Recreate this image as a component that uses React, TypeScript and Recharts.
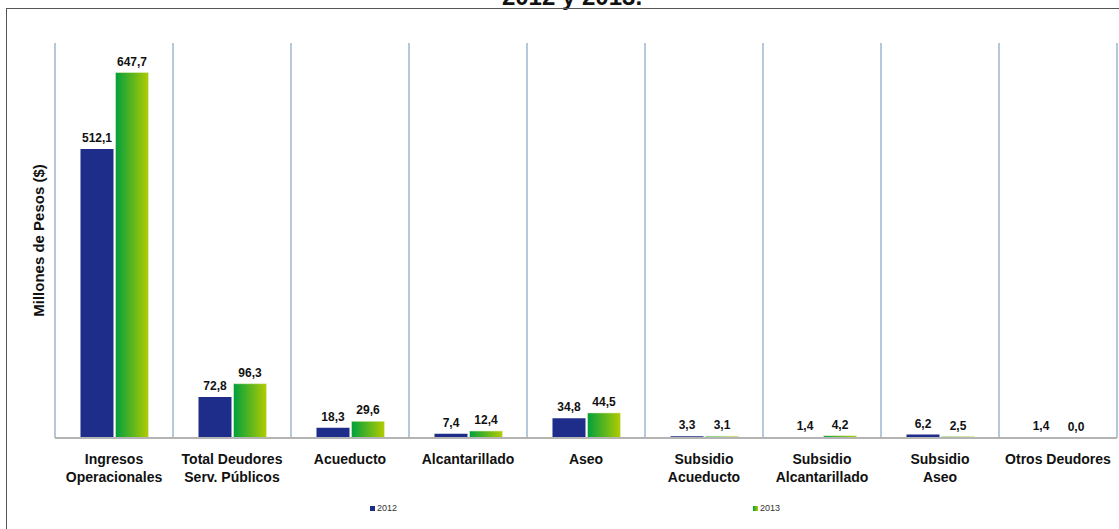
import { BarChart, Bar, XAxis, YAxis, CartesianGrid, LabelList } from 'recharts';

const categories = [
  'Ingresos\nOperacionales',
  'Total Deudores\nServ. Públicos',
  'Acueducto',
  'Alcantarillado',
  'Aseo',
  'Subsidio\nAcueducto',
  'Subsidio\nAlcantarillado',
  'Subsidio\nAseo',
  'Otros Deudores',
];
const values2012 = [512.1, 72.8, 18.3, 7.4, 34.8, 3.3, 1.4, 6.2, 1.4];
const values2013 = [647.7, 96.3, 29.6, 12.4, 44.5, 3.1, 4.2, 2.5, 0.0];
const seriesNames = ['2012', '2013'];
const title = '2012 y 2013.';
const yLabel = 'Millones de Pesos ($)';

const FONT = '"Liberation Sans", Arial, sans-serif';
const NAVY = '#1f2d8a';

const data = categories.map((name, i) => ({
  name,
  y2012: values2012[i],
  y2013: values2013[i],
}));

const fmt = (v: number) => v.toFixed(1).replace('.', ',');

function CategoryTick({ x, y, payload }: any) {
  const lines = String(payload.value).split('\n');
  return (
    <text
      x={x}
      y={y}
      textAnchor="middle"
      fontFamily={FONT}
      fontSize={14}
      fontWeight="bold"
      fill="#111"
    >
      {lines.map((line, i) => (
        <tspan key={i} x={x} dy={18}>
          {line}
        </tspan>
      ))}
    </text>
  );
}

function YTitle({ viewBox }: any) {
  const cx = viewBox.x + viewBox.width - 17;
  const cy = viewBox.y + viewBox.height / 2;
  return (
    <text
      x={cx}
      y={cy}
      transform={`rotate(-90 ${cx} ${cy})`}
      textAnchor="middle"
      dominantBaseline="central"
      fontFamily={FONT}
      fontSize={15}
      fontWeight="bold"
      fill="#111"
    >
      {yLabel}
    </text>
  );
}

const labelStyle = { fontFamily: FONT, fontSize: 12, fontWeight: 'bold', fill: '#111' };

export default function App() {
  return (
    <div
      style={{
        position: 'absolute',
        left: 0,
        top: 0,
        width: 1119,
        height: 529,
        overflow: 'hidden',
        background: '#fff',
        fontFamily: FONT,
      }}
    >
      <div
        style={{
          position: 'absolute',
          left: 0,
          width: 1119,
          top: -17,
          textAlign: 'center',
          paddingLeft: 25,
          boxSizing: 'border-box',
          fontSize: 24,
          fontWeight: 'bold',
          color: '#111',
          lineHeight: '28px',
        }}
      >
        {title}
      </div>
      <div
        style={{
          position: 'absolute',
          left: 6,
          top: 8,
          width: 1200,
          height: 600,
          borderLeft: '1.5px solid #555',
          borderTop: '1.5px solid #555',
        }}
      />
      <div style={{ position: 'absolute', left: 0, top: 0 }}>
        <BarChart
          width={1119}
          height={529}
          data={data}
          margin={{ top: 43, right: 2, left: 0, bottom: 31 }}
          barCategoryGap="21.6%"
          barGap={2}
        >
          <defs>
            <linearGradient id="g2013" x1="0" y1="0" x2="1" y2="0">
              <stop offset="0%" stopColor="#00a03e" />
              <stop offset="100%" stopColor="#b2cb00" />
            </linearGradient>
          </defs>
          <CartesianGrid
            horizontal={false}
            stroke="#86a3c4"
            strokeWidth={1.2}
            verticalCoordinatesGenerator={({ offset }: any) =>
              Array.from(
                { length: categories.length + 1 },
                (_, i) => offset.left + (i * offset.width) / categories.length
              )
            }
          />
          <XAxis
            dataKey="name"
            height={60}
            interval={0}
            tickLine={false}
            axisLine={{ stroke: '#b4b4b4', strokeWidth: 2 }}
            tick={<CategoryTick />}
          />
          <YAxis
            domain={[0, 700]}
            width={55}
            tick={false}
            tickLine={false}
            axisLine={false}
            label={<YTitle />}
          />
          <Bar dataKey="y2012" name={seriesNames[0]} fill={NAVY} isAnimationActive={false}>
            <LabelList dataKey="y2012" position="top" offset={7} formatter={fmt} style={labelStyle} />
          </Bar>
          <Bar
            dataKey="y2013"
            name={seriesNames[1]}
            fill="url(#g2013)"
            stroke="#e4f0c8"
            strokeWidth={0.6}
            minPointSize={(v: number) => (v === 0 ? 0.3 : 0)}
            isAnimationActive={false}
          >
            <LabelList dataKey="y2013" position="top" offset={7} formatter={fmt} style={labelStyle} />
          </Bar>
        </BarChart>
      </div>
      <div
        style={{
          position: 'absolute',
          top: 503,
          left: 370,
          display: 'flex',
          fontSize: 9,
          color: '#333',
        }}
      >
        {seriesNames.map((s, i) => (
          <div key={s} style={{ width: 383, display: 'flex', alignItems: 'center' }}>
            <span
              style={{
                display: 'inline-block',
                width: 5,
                height: 5,
                marginRight: 2,
                background: i === 0 ? NAVY : 'linear-gradient(90deg,#00a03e,#b2cb00)',
              }}
            />
            {s}
          </div>
        ))}
      </div>
    </div>
  );
}
